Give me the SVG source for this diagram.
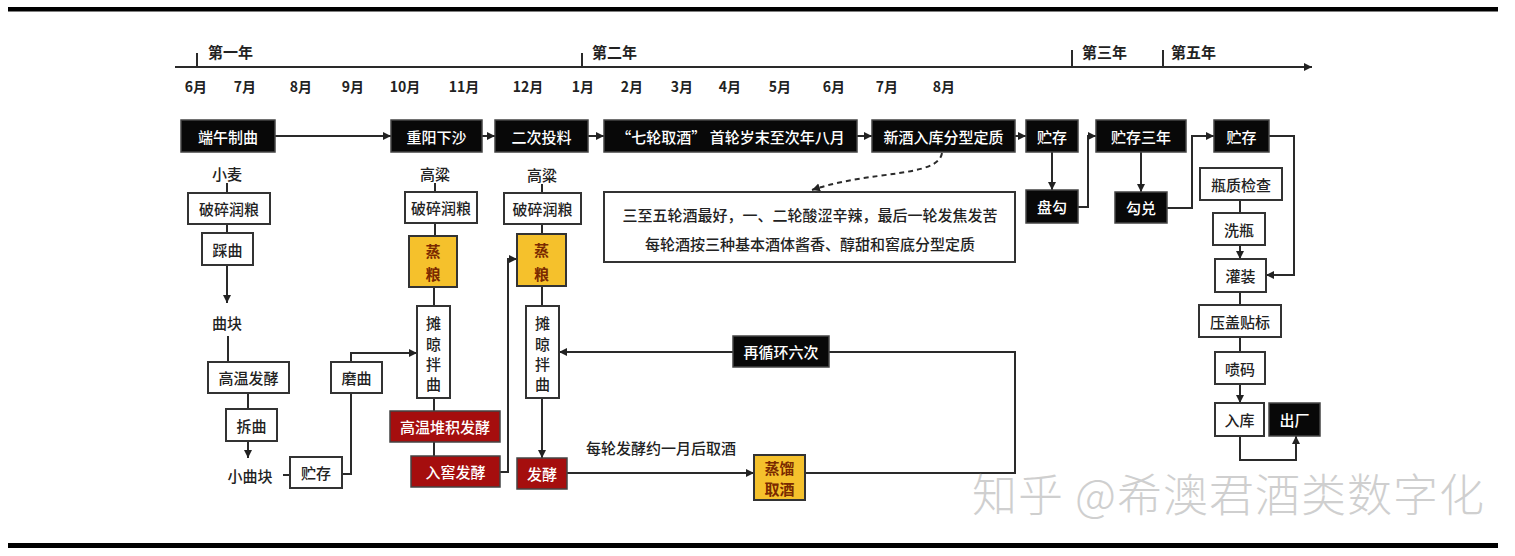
<svg xmlns="http://www.w3.org/2000/svg" width="1515" height="556" viewBox="0 0 1515 556">
<defs>
<marker id="ah" markerUnits="userSpaceOnUse" markerWidth="9" markerHeight="9" refX="8" refY="4" orient="auto"><path d="M0,0 L8,4 L0,8 z" fill="#222"/></marker>
<style>
text{font-family:"Noto Sans CJK SC","Liberation Sans",sans-serif;text-anchor:middle;dominant-baseline:central;fill:#222}
.m{font-size:14px;font-weight:700}
.y{font-size:15px;font-weight:700;text-anchor:start}
.l{font-size:15px;font-weight:500}
.bw{font-size:15px;fill:#fff;font-weight:500}
.yt{font-size:15px;fill:#7a2a00;font-weight:700}
.bb{fill:#080808;stroke:#444;stroke-width:1.5}
.wb{fill:#fff;stroke:#333;stroke-width:2}
.yb{fill:#f5c12c;stroke:#333;stroke-width:2}
.rb{fill:#a50e0e;stroke:#444;stroke-width:1.5}
.c{fill:none;stroke:#2a2a2a;stroke-width:2}
.a{marker-end:url(#ah)}
</style>
</defs>
<rect width="1515" height="556" fill="#fff"/>
<rect x="8" y="7" width="1490" height="4.5" fill="#000"/>
<rect x="8" y="543" width="1490" height="5" fill="#000"/>

<g id="timeline">
<path class="c a" d="M175,67 H1312"/>
<path class="c" d="M197,53 V67 M582,53 V67 M1072,50 V67 M1163,50 V67"/>
<text class="y" x="208" y="51">第一年</text>
<text class="y" x="592" y="51">第二年</text>
<text class="y" x="1082" y="51">第三年</text>
<text class="y" x="1171" y="51">第五年</text>
<text class="m" x="196" y="86">6月</text>
<text class="m" x="245" y="86">7月</text>
<text class="m" x="301" y="86">8月</text>
<text class="m" x="353" y="86">9月</text>
<text class="m" x="405" y="86">10月</text>
<text class="m" x="464" y="86">11月</text>
<text class="m" x="528" y="86">12月</text>
<text class="m" x="583" y="86">1月</text>
<text class="m" x="632" y="86">2月</text>
<text class="m" x="682" y="86">3月</text>
<text class="m" x="730" y="86">4月</text>
<text class="m" x="780" y="86">5月</text>
<text class="m" x="834" y="86">6月</text>
<text class="m" x="887" y="86">7月</text>
<text class="m" x="944" y="86">8月</text>
</g>

<g id="connectors">
<path class="c a" d="M275,136 H391"/>
<path class="c a" d="M482,136 H495"/>
<path class="c a" d="M588,136 H604"/>
<path class="c a" d="M857,136 H872"/>
<path class="c a" d="M1015,136 H1026"/>
<path class="c a" d="M1052,152 V190"/>
<path class="c a" d="M1078,207 H1088 V136 H1096"/>
<path class="c a" d="M1141,152 V192"/>
<path class="c a" d="M1167,208 H1192 V136 H1214"/>
<path class="c a" d="M1269,136 H1294 V275 H1266"/>
<path class="c" d="M1240,200 V213"/>
<path class="c a" d="M1240,245 V259"/>
<path class="c" d="M1240,292 V305"/>
<path class="c" d="M1240,337 V352"/>
<path class="c a" d="M1240,384 V403"/>
<path class="c a" d="M1240,436 V460 H1296 V436"/>
<path class="c" d="M227,183 V193 M227,224 V233"/>
<path class="c a" d="M227,265 V303"/>
<path class="c" d="M228,336 V362 M248,393 V409"/>
<path class="c a" d="M248,441 V458"/>
<path class="c" d="M283,475 H290"/>
<path class="c" d="M342,474 H351 V393"/>
<path class="c a" d="M351,362 V353 H417"/>
<path class="c" d="M435,183 V192 M435,223 V236 M434,287 V306 M434,398 V411 M434,442 V456"/>
<path class="c a" d="M500,472 H508 V259 H517"/>
<path class="c" d="M542,184 V193 M542,224 V234 M542,286 V306"/>
<path class="c a" d="M542,398 V458"/>
<path class="c a" d="M567,473 H754"/>
<path class="c" d="M805,473 H1015 V352 H829"/>
<path class="c a" d="M733,352 H559"/>
<path class="c a" d="M942,153 C938,178 870,170 812,190" stroke-dasharray="5,4"/>
</g>

<g id="top-row">
<g id="n-duanwu"><rect class="bb" x="181" y="120" width="94" height="32"/><text class="bw" x="228" y="136">端午制曲</text></g>
<g id="n-chongyang"><rect class="bb" x="391" y="120" width="91" height="32"/><text class="bw" x="436.5" y="136">重阳下沙</text></g>
<g id="n-erci"><rect class="bb" x="495" y="120" width="93" height="32"/><text class="bw" x="541.5" y="136">二次投料</text></g>
<g id="n-qilun"><rect class="bb" x="604" y="120" width="253" height="32"/><text class="bw" x="730.5" y="136">“七轮取酒” 首轮岁末至次年八月</text></g>
<g id="n-xinjiu"><rect class="bb" x="872" y="120" width="143" height="32"/><text class="bw" x="943.5" y="136">新酒入库分型定质</text></g>
<g id="n-zhucun1"><rect class="bb" x="1026" y="120" width="52" height="32"/><text class="bw" x="1052" y="136">贮存</text></g>
<g id="n-zhucun3"><rect class="bb" x="1096" y="120" width="90" height="32"/><text class="bw" x="1141" y="136">贮存三年</text></g>
<g id="n-zhucun2"><rect class="bb" x="1214" y="120" width="55" height="32"/><text class="bw" x="1241.5" y="136">贮存</text></g>
</g>

<g id="left-col">
<g id="n-xiaomai"><text class="l" x="227" y="173">小麦</text></g>
<g id="n-posui1"><rect class="wb" x="188" y="193" width="82" height="31"/><text class="l" x="229" y="208.5">破碎润粮</text></g>
<g id="n-caiqu"><rect class="wb" x="202" y="233" width="51" height="32"/><text class="l" x="227.5" y="249">踩曲</text></g>
<g id="n-qukuai"><text class="l" x="227" y="322">曲块</text></g>
<g id="n-gaowen"><rect class="wb" x="208" y="362" width="81" height="31"/><text class="l" x="248.5" y="377.5">高温发酵</text></g>
<g id="n-chaiqu"><rect class="wb" x="226" y="409" width="51" height="32"/><text class="l" x="251.5" y="425">拆曲</text></g>
<g id="n-xiaoqukuai"><text class="l" x="250" y="475">小曲块</text></g>
<g id="n-zhucun0"><rect class="wb" x="290" y="457" width="52" height="31"/><text class="l" x="316" y="472.5">贮存</text></g>
<g id="n-moqu"><rect class="wb" x="331" y="362" width="51" height="31"/><text class="l" x="356.5" y="377.5">磨曲</text></g>
</g>

<g id="col-a">
<g id="n-gaoliang1"><text class="l" x="435" y="173">高粱</text></g>
<g id="n-posui2"><rect class="wb" x="405" y="192" width="72" height="31"/><text class="l" x="441" y="207.5">破碎润粮</text></g>
<g id="n-zhengliang1"><rect class="yb" x="409" y="236" width="48" height="51"/><text class="yt" x="433" y="250">蒸</text><text class="yt" x="433" y="273">粮</text></g>
<g id="n-tanliang1"><rect class="wb" x="417" y="306" width="33" height="92"/><text class="l" x="433.5" y="322">摊</text><text class="l" x="433.5" y="343">晾</text><text class="l" x="433.5" y="363">拌</text><text class="l" x="433.5" y="383">曲</text></g>
<g id="n-duiji"><rect class="rb" x="390" y="411" width="110" height="31"/><text class="bw" x="445" y="426.5">高温堆积发酵</text></g>
<g id="n-rujiao"><rect class="rb" x="411" y="456" width="89" height="31"/><text class="bw" x="455.5" y="471.5">入窖发酵</text></g>
</g>

<g id="col-b">
<g id="n-gaoliang2"><text class="l" x="542" y="174">高粱</text></g>
<g id="n-posui3"><rect class="wb" x="504" y="193" width="77" height="31"/><text class="l" x="542.5" y="208.5">破碎润粮</text></g>
<g id="n-zhengliang2"><rect class="yb" x="517" y="234" width="49" height="52"/><text class="yt" x="541.5" y="249">蒸</text><text class="yt" x="541.5" y="273">粮</text></g>
<g id="n-tanliang2"><rect class="wb" x="526" y="306" width="33" height="92"/><text class="l" x="542.5" y="322">摊</text><text class="l" x="542.5" y="343">晾</text><text class="l" x="542.5" y="363">拌</text><text class="l" x="542.5" y="383">曲</text></g>
<g id="n-fajiao"><rect class="rb" x="517" y="458" width="50" height="31"/><text class="bw" x="542" y="473.5">发酵</text></g>
<g id="n-label-month"><text class="l" x="661" y="447">每轮发酵约一月后取酒</text></g>
<g id="n-zhengliu"><rect class="yb" x="754" y="455" width="51" height="45"/><text class="yt" x="779.5" y="467">蒸馏</text><text class="yt" x="779.5" y="488">取酒</text></g>
<g id="n-xunhuan"><rect class="bb" x="733" y="336" width="96" height="31"/><text class="bw" x="781" y="351.5">再循环六次</text></g>
<g id="n-note"><rect class="wb" x="604" y="192" width="411" height="70"/><text class="l" x="810" y="214">三至五轮酒最好，一、二轮酸涩辛辣，最后一轮发焦发苦</text><text class="l" x="810" y="243">每轮酒按三种基本酒体酱香、醇甜和窖底分型定质</text></g>
</g>

<g id="right-col">
<g id="n-pangou"><rect class="bb" x="1026" y="190" width="52" height="33"/><text class="bw" x="1052" y="206.5">盘勾</text></g>
<g id="n-goudui"><rect class="bb" x="1115" y="192" width="52" height="31"/><text class="bw" x="1141" y="207.5">勾兑</text></g>
<g id="n-pingzhi"><rect class="wb" x="1200" y="168" width="82" height="32"/><text class="l" x="1241" y="184">瓶质检查</text></g>
<g id="n-xiping"><rect class="wb" x="1213" y="213" width="52" height="32"/><text class="l" x="1239" y="229">洗瓶</text></g>
<g id="n-guanzhuang"><rect class="wb" x="1215" y="259" width="51" height="33"/><text class="l" x="1240.5" y="275.5">灌装</text></g>
<g id="n-yagai"><rect class="wb" x="1199" y="305" width="82" height="32"/><text class="l" x="1240" y="321">压盖贴标</text></g>
<g id="n-penma"><rect class="wb" x="1215" y="352" width="50" height="32"/><text class="l" x="1240" y="368">喷码</text></g>
<g id="n-ruku"><rect class="wb" x="1215" y="403" width="49" height="33"/><text class="l" x="1239.5" y="419.5">入库</text></g>
<g id="n-chuchang"><rect class="bb" x="1269" y="403" width="51" height="33"/><text class="bw" x="1294.5" y="419.5">出厂</text></g>
</g>

<text x="972" y="492" style="font-size:45px;text-anchor:start;fill:#cfcfcf;font-weight:300;letter-spacing:1px">知乎 @希澳君酒类数字化</text>
</svg>
